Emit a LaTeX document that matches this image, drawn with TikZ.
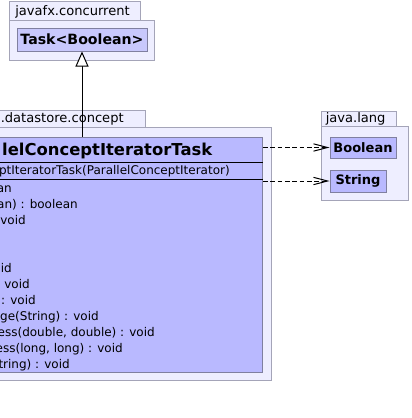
\documentclass[tikz,border=0pt]{standalone}
\usepackage{fontspec}
\setmainfont{DejaVu Sans}
\usepackage{tikz}
\usetikzlibrary{arrows.meta}
\definecolor{pkgFill}{HTML}{EEEEFF}
\definecolor{pkgLine}{HTML}{A4A4B8}
\definecolor{classFill}{HTML}{B9B9FF}
\definecolor{taskFill}{HTML}{C8C8FC}
\definecolor{classLine}{HTML}{8080A0}

\begin{document}
\begin{tikzpicture}[x=0.75pt,y=-0.75pt,
  pkg/.style={fill=pkgFill, draw=pkgLine, line width=0.75pt},
  classbox/.style={rectangle, fill=classFill, draw=classLine, line width=0.75pt, inner sep=0pt, font=\fontsize{9.75}{11}\selectfont\bfseries},
  member/.style={anchor=base east, inner sep=0pt, font=\fontsize{9}{11}\selectfont},
  pkglabel/.style={anchor=base west, inner sep=0pt, font=\fontsize{9.8}{11}\selectfont},
  extends/.style={-{Triangle[length=11.25pt, width=9.75pt, fill=white]}, line width=0.75pt},
  uses/.style={-{Straight Barb[length=10.5pt, width=5.5pt]}, dash pattern=on 3.5pt off 2pt, line width=0.75pt}]
\def\rowH{16}
\def\rowA{192.7}
\useasboundingbox (0,0) rectangle (411,418);
\clip (0,0) rectangle (411,418);
% packages
\filldraw[pkg] (9,1) rectangle (140,20.7);
\filldraw[pkg] (9,20.7) rectangle (154,60);
\node[pkglabel] (fxName) at (15,15.5) {javafx.concurrent};
\filldraw[pkg] (-20,110.7) rectangle (145,127.7);
\filldraw[pkg] (-20,127.7) rectangle (271.7,380.7);
\node[pkglabel] (storeName) at (0.5,122) {.datastore.concept};
\filldraw[pkg] (321,111) rectangle (396,126);
\filldraw[pkg] (321,126) rectangle (408,200);
\node[pkglabel] (langName) at (325.5,122) {java.lang};
% classes
\node[classbox, fill=taskFill, minimum width=97.5pt, minimum height=17.25pt, font=\fontsize{10.6}{12}\selectfont\bfseries] (task) at (82,39.5) {Task<Boolean>};
\node[classbox, minimum width=49.5pt, minimum height=15.75pt] (boolean) at (363,147.5) {Boolean};
\node[classbox, minimum width=42pt, minimum height=16.5pt] (string) at (358,181) {String};
\node[classbox, anchor=north east, minimum width=212.25pt, minimum height=176.5pt] (iterTask) at (263,136.7) {};
\draw[line width=0.75pt] (iterTask.west |- 0,162) -- (iterTask.east |- 0,162);
\draw[line width=0.75pt] (iterTask.west |- 0,179.5) -- (iterTask.east |- 0,179.5);
\node[anchor=base east, inner sep=0pt, font=\fontsize{12.3}{14}\selectfont\bfseries] (title) at (212.5,155) {lelConceptIteratorTask};
\node[member] (ctor) at (230,174) {ptIteratorTask(ParallelConceptIterator)};
\foreach \k/\xr/\txt in {0/12/an, 1/78/{an) : boolean}, 2/26/void, 5/12/id, 6/30/void, 7/36/{: void},
  8/99/{ge(String) : void}, 9/155/{ess(double, double) : void}, 10/123/{ess(long, long) : void}, 11/70/{tring) : void}}
  \node[member] (m\k) at (\xr,\rowA+\rowH*\k) {\txt};
% relations
\draw[extends] (iterTask.north -| task.south) -- (task.south);
\draw[uses] (iterTask.east |- boolean.west) -- (boolean.west);
\draw[uses] (iterTask.east |- string.west) -- (string.west);
\end{tikzpicture}
\end{document}
